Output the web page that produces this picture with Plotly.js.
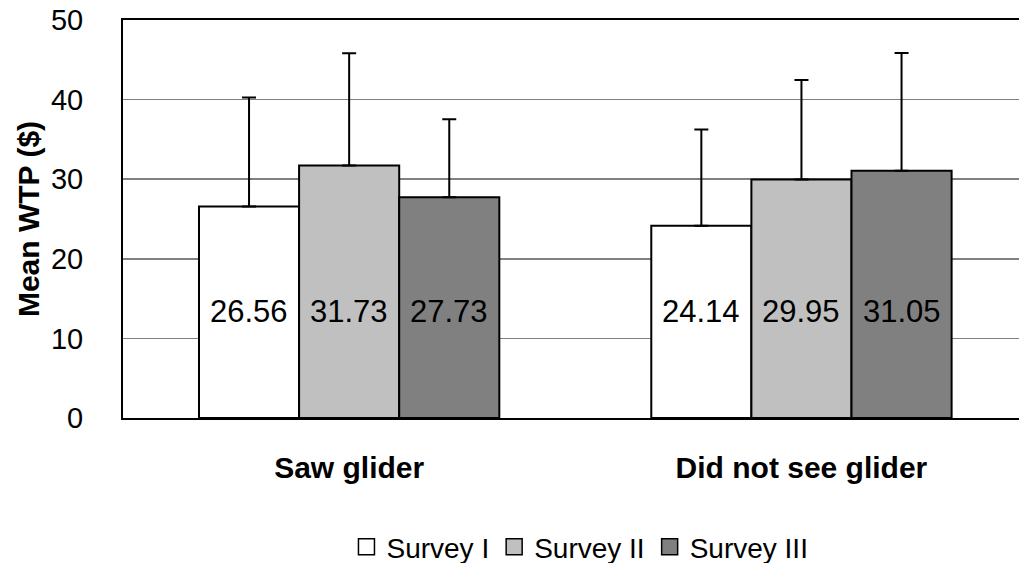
<!DOCTYPE html>
<html>
<head>
<meta charset="utf-8">
<script src="https://cdn.plot.ly/plotly-3.0.1.min.js"></script>
<style>html,body{margin:0;padding:0;background:#fff;}#chart{width:1019px;height:563px;}</style>
</head>
<body>
<div id="chart"></div>
<script>
// ---- data ----
var categories = ["Saw glider", "Did not see glider"];
var seriesNames = ["Survey I", "Survey II", "Survey III"];
var surveyI = [26.56, 24.14];
var surveyII = [31.73, 29.95];
var surveyIII = [27.73, 31.05];
var errI = [13.7, 12.1];
var errII = [14.1, 12.5];
var errIII = [9.8, 14.8];
var yTicks = [0, 10, 20, 30, 40, 50];

// ---- styling ----
var FONT = "Liberation Sans, Arial, sans-serif";
var colors = ["#FFFFFF", "#C0C0C0", "#808080"];
var values = [surveyI, surveyII, surveyIII];
var errors = [errI, errII, errIII];
var bargap = 0.336;
var labelY = 13.4;

var traces = values.map(function (vals, j) {
  return {
    type: "bar",
    name: seriesNames[j],
    x: categories,
    y: vals,
    showlegend: false,
    marker: { color: colors[j], line: { color: "#000000", width: 2 } },
    error_y: {
      type: "data", array: errors[j], symmetric: false,
      arrayminus: vals.map(function () { return 0; }),
      color: "#000000", thickness: 2, width: 7
    },
    hoverinfo: "none"
  };
});

// legend entries with larger square swatches
seriesNames.forEach(function (name, j) {
  traces.push({
    type: "scatter", mode: "markers", name: name,
    x: [categories[0]], y: [null],
    marker: { symbol: "square", size: 18, color: colors[j],
              line: { color: "#000000", width: 1.5 } },
    showlegend: true, hoverinfo: "none"
  });
});

// value labels centered on each bar
var w = (1 - bargap) / 3;
var annotations = [];
values.forEach(function (vals, j) {
  vals.forEach(function (v, i) {
    annotations.push({
      x: i + (j - 1) * w, y: labelY, xref: "x", yref: "y",
      text: v.toFixed(2), showarrow: false,
      font: { family: FONT, size: 31, color: "#000000" }
    });
  });
});

var layout = {
  width: 1019, height: 563,
  margin: { l: 123, r: 0, t: 20, b: 145, autoexpand: false },
  paper_bgcolor: "#FFFFFF", plot_bgcolor: "#FFFFFF",
  barmode: "group", bargap: bargap, bargroupgap: 0,
  showlegend: true,
  legend: {
    orientation: "h", x: 0.51, xanchor: "center", y: -0.324, yanchor: "middle",
    font: { family: FONT, size: 28, color: "#000000" },
    traceorder: "normal", itemwidth: 30, itemsizing: "trace",
    tracegroupgap: 0
  },
  xaxis: {
    type: "category",
    range: [-0.5, 1.481],
    showline: true, linecolor: "#000000", linewidth: 2, mirror: true,
    showgrid: false, ticks: "", zeroline: false,
    ticklabelstandoff: 22,
    tickfont: { family: FONT, size: 30, color: "#000000", weight: "bold" }
  },
  yaxis: {
    range: [0, 50],
    tickvals: yTicks,
    showline: true, linecolor: "#000000", linewidth: 2, mirror: false,
    showgrid: true, gridcolor: "#808080", gridwidth: 1.5,
    zeroline: false, ticks: "",
    ticklabelstandoff: 32,
    tickfont: { family: FONT, size: 29, color: "#000000" },
    title: { text: "<b>Mean WTP ($)</b>", standoff: 2,
             font: { family: FONT, size: 30, color: "#000000" } }
  },
  annotations: annotations
};

Plotly.newPlot("chart", traces, layout, { displayModeBar: false, staticPlot: true });
</script>
</body>
</html>
